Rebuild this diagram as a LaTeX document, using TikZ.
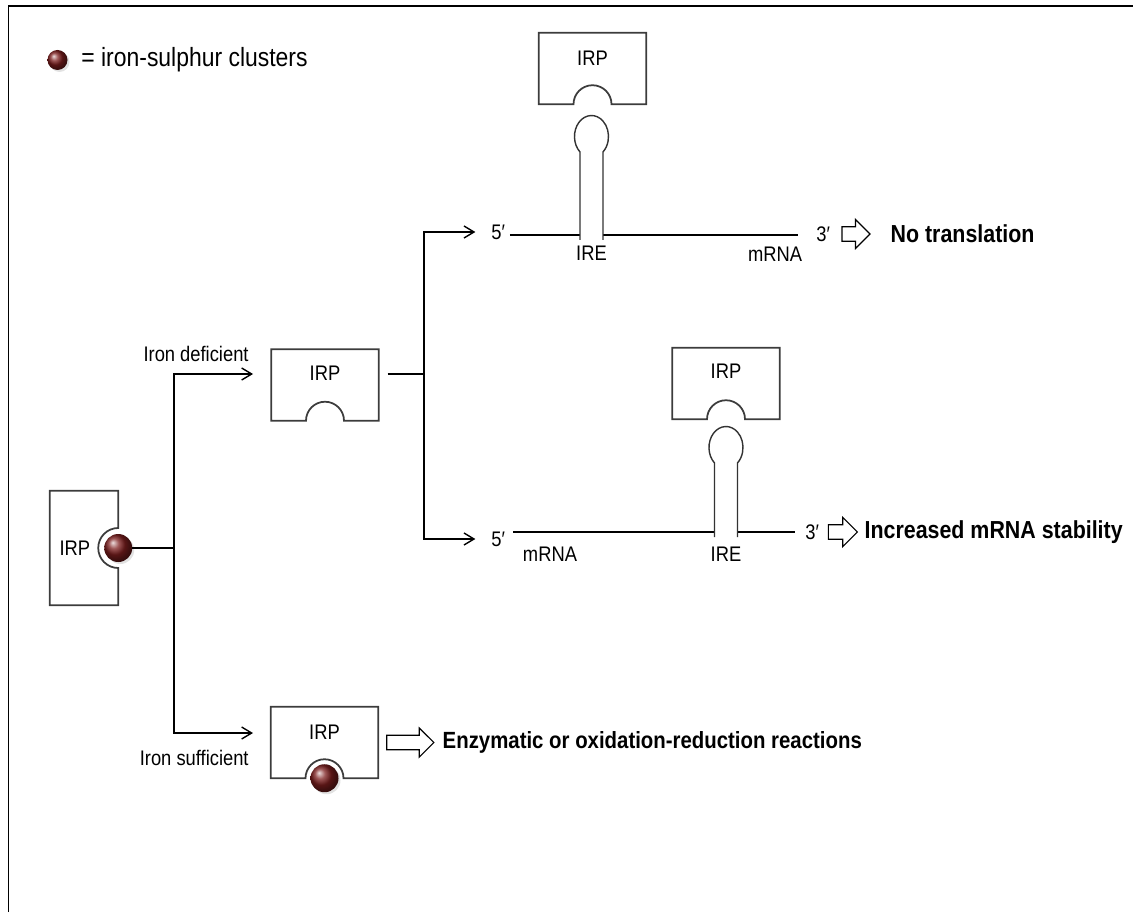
\documentclass[tikz,border=0pt]{standalone}
\usepackage{fontspec}
\setmainfont{Liberation Sans}[FakeStretch=0.87]
\usepackage{tikz}
\usetikzlibrary{positioning,calc,arrows.meta,shapes.arrows,shadows}

\definecolor{clusterred}{RGB}{125,30,30}
\definecolor{boxgray}{RGB}{60,60,60}

\begin{document}
\begin{tikzpicture}[x=0.03cm, y=0.03cm,
    % IRP protein box (outline drawn separately because of the notch)
    irp/.style={
        rectangle,
        inner sep=0pt,
        minimum width=3.21cm,
        minimum height=2.13cm
    },
    irpline/.style={draw=boxgray, line width=1.5pt},
    % Plain labels
    txt/.style={font=\fontsize{18}{21}\selectfont, inner sep=1pt},
    % Bold outcome labels
    result/.style={font=\fontsize{21}{24}\selectfont\bfseries, inner sep=1pt},
    % Connectors
    wire/.style={draw=black, line width=1.5pt},
    arrow/.style={wire, -{Straight Barb[length=0.3cm, width=0.36cm, line width=1.2pt]}},
    loopline/.style={draw=black!80, line width=1.2pt},
    % Hollow block arrow
    bigarrow/.style={
        single arrow,
        draw=black,
        line width=1pt,
        inner sep=0pt,
        text height=0.4cm,
        single arrow head extend=0.22cm
    },
    % Iron-sulphur cluster ball
    cluster/.style={
        circle,
        inner sep=0pt,
        minimum size=0.84cm,
        shading=ball,
        ball color=clusterred,
        drop shadow={shadow xshift=0.06cm, shadow yshift=-0.06cm, fill=gray!45}
    }
]
\useasboundingbox (0,0) rectangle (1133,912);

% --- Frame ---
\draw[line width=1.7pt] (8.5,0) -- (8.5,906) -- (1133,906);

% --- Legend ---
\node[cluster, minimum size=0.6cm] (keyball) at (57.5,852) {};
\node[txt, anchor=west, font=\fontsize{22.5}{25}\selectfont] (keytext) at (80,852) {= iron-sulphur clusters};

% --- IRP boxes ---
\node[irp] (irpA) at (592.5,843.5) {};
\node[irp] (irpB) at (325,527) {};
\node[irp] (irpC) at (324.5,169.5) {};
\node[irp] (irpD) at (726,528.5) {};
\node[irp, minimum width=2.04cm, minimum height=3.42cm] (irpL) at (84,364) {};

% notch at the bottom
\foreach \b in {irpA,irpB,irpC,irpD}
    \draw[irpline] (\b.south east) -- (\b.north east) -- (\b.north west) -- (\b.south west)
        -- ($(\b.south)+(-19,0)$) arc[start angle=180, end angle=0, radius=19] -- cycle;
% notch on the right side
\draw[irpline] (irpL.south east) -- (irpL.south west) -- (irpL.north west) -- (irpL.north east)
    -- ($(irpL.east)+(0,20)$) arc[start angle=90, end angle=270, radius=20] -- cycle;

\node[txt, below=0.5cm of irpA.north] (irpAtext) {IRP};
\node[txt, below=0.45cm of irpB.north] (irpBtext) {IRP};
\node[txt, below=0.5cm of irpC.north] (irpCtext) {IRP};
\node[txt, below=0.45cm of irpD.north] (irpDtext) {IRP};
\node[txt, right=0.25cm of irpL.west] (irpLtext) {IRP};

% clusters bound to IRP
\node[cluster] (ballL) at (irpL.east) {};
\node[cluster] (ballC) at (irpC.south) {};

% --- Iron status split ---
\coordinate (splitL) at (174,364);
\coordinate (tipB) at (253,538);
\coordinate (tipC) at (253,179);
\draw[wire] (ballL) -- (splitL);
\draw[arrow] (splitL) |- (tipB);
\draw[arrow] (splitL) |- (tipC);
\node[txt, anchor=base east] (deficient) at ($(tipB)+(-3,12)$) {Iron deficient};
\node[txt, anchor=base east] (sufficient) at ($(tipC)+(-3,-32)$) {Iron sufficient};

% --- Iron sufficient outcome ---
\node[bigarrow, minimum height=1.41cm, right=0.24cm of irpC] (goC) {};
\node[result, font=\fontsize{20}{23}\selectfont\bfseries, right=0.2cm of goC] (enzymatic) {Enzymatic or oxidation-reduction reactions};

% --- Iron deficient: binding to the IRE ---
\coordinate (splitB) at (424,538);
\draw[wire, shorten <=0.27cm] (splitB -| irpB.east) -- (splitB);

\node[txt, anchor=west] (fiveA) at (490,680) {5′};
\node[txt, anchor=west] (fiveB) at (490,373) {5′};
\draw[arrow, shorten >=0.44cm] (splitB) |- (fiveA.west);
\draw[arrow, shorten >=0.44cm] (splitB) |- (fiveB.west);

% upper mRNA, IRE in the 5' region
\coordinate (ireA) at (591.5,677);
\node[txt, anchor=west] (threeA) at (815,678) {3′};
\draw[wire, shorten <=0.1cm] (fiveA.east |- ireA) -- ($(ireA)+(-11.5,0)$);
\draw[wire, shorten >=0.5cm] ($(ireA)+(11.5,0)$) -- (threeA.west |- ireA);
\draw[loopline] ($(ireA)+(-11.5,-5)$) -- ++(0,88)
    arc[start angle=227.5, end angle=-47.5, x radius=17, y radius=21] -- ++(0,-88);
\node[txt, below=0.3cm of ireA] (ireAtext) {IRE};
\node[txt] (mrnaA) at (775,658) {mRNA};
\node[bigarrow, minimum height=0.84cm, right=0.3cm of threeA] (goA) {};
\node[result, right=0.55cm of goA] (notrans) {No translation};

% lower mRNA, IRE in the 3' region
\coordinate (ireB) at (726,380);
\node[txt, anchor=west] (threeB) at (804,380) {3′};
\draw[wire, shorten <=0.2cm] (fiveB.east |- ireB) -- ($(ireB)+(-11.5,0)$);
\draw[wire, shorten >=0.27cm] ($(ireB)+(11.5,0)$) -- (threeB.west |- ireB);
\draw[loopline] ($(ireB)+(-11.5,-5)$) -- ++(0,74)
    arc[start angle=227.5, end angle=-47.5, x radius=17, y radius=21] -- ++(0,-74);
\node[txt, below=0.4cm of ireB] (ireBtext) {IRE};
\node[txt] (mrnaB) at (550,358) {mRNA};
\node[bigarrow, minimum height=0.87cm, right=0.22cm of threeB] (goB) {};
\node[result, right=0.15cm of goB] (stability) {Increased mRNA stability};

\end{tikzpicture}
\end{document}
